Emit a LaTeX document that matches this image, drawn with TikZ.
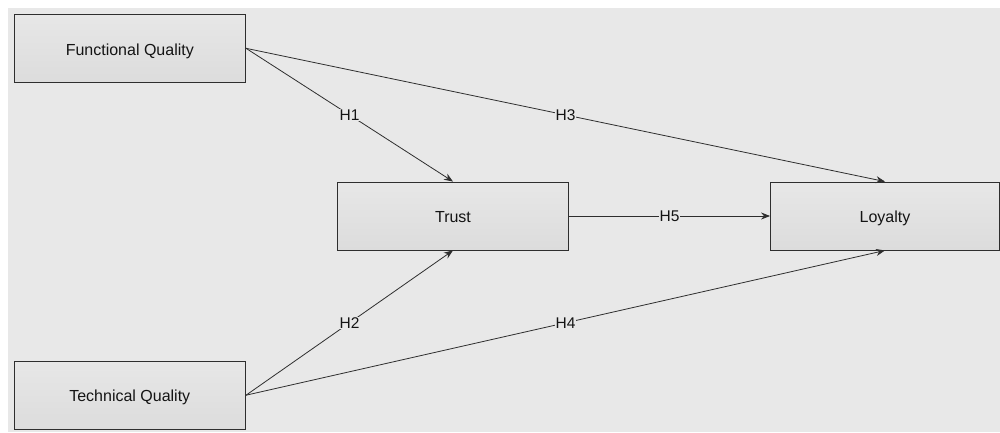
\documentclass[tikz,border=0pt]{standalone}
\usepackage{fontspec}
\setmainfont{Liberation Sans}
\usetikzlibrary{arrows.meta}
\definecolor{bggray}{HTML}{E8E8E8}
\definecolor{boxtop}{HTML}{E7E7E7}
\definecolor{boxbot}{HTML}{DCDCDC}
\definecolor{linegray}{HTML}{2E2E2E}
\tikzset{
  box/.style={draw=linegray, line width=0.9pt, rectangle, top color=boxtop, bottom color=boxbot,
    minimum height=68pt, inner sep=0pt, text height=14pt, text depth=0.5pt,
    font=\fontsize{16}{19}\selectfont, text=black!92},
  conn/.style={draw=linegray, line width=0.8pt, -{Stealth[length=9pt,width=7pt]}},
  hlab/.style={fill=bggray, inner sep=0.6pt, font=\fontsize{15.5}{18}\selectfont, text=black!92}
}
\begin{document}
\begin{tikzpicture}[x=1pt,y=-1pt]
\useasboundingbox (0,0) rectangle (1000,432);
\fill[white] (0,0) rectangle (1000,432);
\fill[bggray] (8,8) rectangle (1000,432);
\node[box, minimum width=231.5pt] (fq) at (129.8,48.3) {Functional Quality};
\node[box, minimum width=231.5pt] (tq) at (129.8,395.2) {Technical Quality};
\node[box, minimum width=231.4pt] (tr) at (453,216) {Trust};
\node[box, minimum width=229pt] (lo) at (885,216) {Loyalty};
\draw[conn] (fq.east) -- node[hlab] {H1} (tr.north);
\draw[conn] (fq.east) -- node[hlab] {H3} (lo.north);
\draw[conn] (tq.east) -- node[hlab] {H2} (tr.south);
\draw[conn] (tq.east) -- node[hlab] {H4} (lo.south);
\draw[conn] (tr.east) -- node[hlab] {H5} (lo.west);
\end{tikzpicture}
\end{document}
